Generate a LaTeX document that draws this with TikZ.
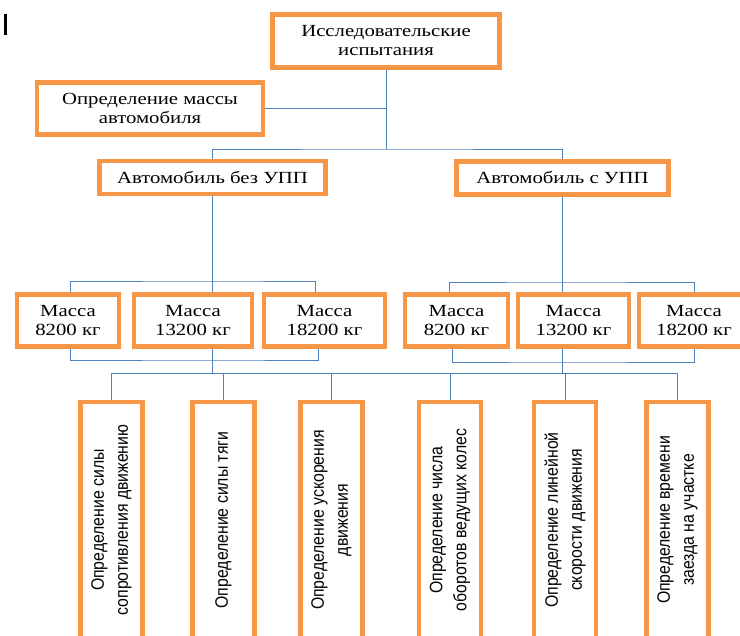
\documentclass[tikz,border=0pt]{standalone}
\usepackage{fontspec}
\newfontfamily\boxfont{Liberation Serif}[FakeStretch=1.22]
\newfontfamily\vertfont{Liberation Sans}[FakeStretch=0.88]
\definecolor{boxOrange}{HTML}{F79646}
\definecolor{linkBlue}{HTML}{4F81BD}
\tikzset{
  box/.style  = {draw=boxOrange, line width=4.5pt, fill=white, inner sep=2pt, align=center,
                 font=\boxfont\fontsize{17}{19}\selectfont},
  vbox/.style = {draw=boxOrange, line width=4.5pt, fill=white, inner sep=2pt, align=center,
                 rotate=90, minimum width=236pt, minimum height=62pt,
                 font=\vertfont\fontsize{18}{24}\selectfont},
  link/.style = {draw=linkBlue, line width=0.9pt},
}

\begin{document}
\begin{tikzpicture}[x=1pt,y=-1pt]
  \useasboundingbox (0,0) rectangle (740,636);
  \draw[line width=2.4pt] (5.5,14) -- (5.5,35);
  % upper levels
  \node[box, minimum width=227, minimum height=53] (top) at (386,41) {Исследовательские\\испытания};
  \node[box, minimum width=226, minimum height=52] (mass) at (150,108.5) {Определение массы\\автомобиля};
  \node[box, minimum width=226, minimum height=33] (carA) at (212.5,177.5) {Автомобиль без УПП};
  \node[box, minimum width=212, minimum height=33] (carB) at (562.5,178) {Автомобиль с УПП};
  % masses
  \foreach \n/\x/\w/\kg in {L1/68/102/8200, L2/193/118/13200, L3/324.5/121/18200,
                            R1/456.5/103/8200, R2/573.5/111/13200, R3/694/110/18200}
    \node[box, minimum width=\w, minimum height=52] (\n) at (\x,320.5) {Масса\\\kg{} кг};
  % measured quantities
  \node[vbox] (D1) at (111.5,520) {Определение силы\\сопротивления движению};
  \node[vbox] (D2) at (223.5,520) {Определение силы тяги};
  \node[vbox] (D3) at (331.5,520) {Определение ускорения\\движения};
  \node[vbox] (D4) at (450,520) {Определение числа\\оборотов ведущих колес};
  \node[vbox] (D5) at (565,520) {Определение линейной\\скорости движения};
  \node[vbox] (D6) at (677.5,520) {Определение времени\\заезда на участке};

  % connectors
  \coordinate (hub) at (top.south |- 0,149);
  \draw[link] (top.south) -- (hub);
  \draw[link] (mass.east) -- (mass.east -| top.south);
  \draw[link] (carA.north) |- (hub) -| (carB.north);

  \draw[link] (carA.south) -- (carA.south |- L2.north);
  \draw[link] ([xshift=2pt]L1.north) |- (carA.south |- 0,281) -| ([xshift=-9pt]L3.north);
  \draw[link] ([xshift=2pt]L1.south) |- (carA.south |- 0,360) -| ([xshift=-6pt]L3.south);
  \draw[link] (carA.south |- L2.south) -- (carA.south |- 0,373);

  \draw[link] (carB.south) -- (carB.south |- R2.north);
  \draw[link] ([xshift=-7pt]R1.north) |- (carB.south |- 0,282) -| (R3.north);
  \draw[link] ([xshift=-4pt]R1.south) |- (carB.south |- 0,362) -| (R3.south);
  \draw[link] (carB.south |- R2.south) -- (carB.south |- 0,373);

  \draw[link] (D1.east) |- (D6.east |- 0,373) -- (D6.east);
  \foreach \n in {D2,D3,D4,D5}
    \draw[link] (\n.east) -- (\n.east |- 0,373);
\end{tikzpicture}
\end{document}
